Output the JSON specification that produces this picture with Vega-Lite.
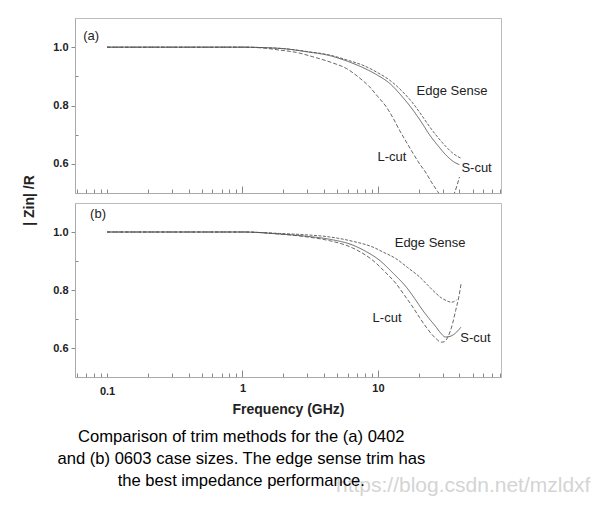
{
  "$schema": "https://vega.github.io/schema/vega-lite/v6.json",
  "background": "white",
  "padding": {"left": 21, "top": 17, "right": 5, "bottom": 5},
  "config": {
    "font": "Liberation Sans",
    "view": {"stroke": "#bbb", "strokeWidth": 1},
    "axis": {"domainColor": "#aaa", "tickColor": "#888", "grid": false, "labelFont": "Liberation Sans", "labelFontWeight": "bold", "labelFontSize": 11, "labelColor": "#222", "titleFont": "Liberation Sans", "titleFontWeight": "bold", "titleFontSize": 14, "titleColor": "#222"},
    "concat": {"spacing": 10}
  },
  "bounds": "flush",
  "datasets": {
    "curves": [
      {"p":"a","s":"Edge Sense","f":0.1,"v":1},{"p":"a","s":"Edge Sense","f":0.5,"v":1},{"p":"a","s":"Edge Sense","f":1,"v":1},{"p":"a","s":"Edge Sense","f":1.5,"v":0.998},{"p":"a","s":"Edge Sense","f":2,"v":0.995},{"p":"a","s":"Edge Sense","f":3,"v":0.985},{"p":"a","s":"Edge Sense","f":4.4,"v":0.973},{"p":"a","s":"Edge Sense","f":6,"v":0.955},{"p":"a","s":"Edge Sense","f":7.74,"v":0.938},{"p":"a","s":"Edge Sense","f":10,"v":0.912},{"p":"a","s":"Edge Sense","f":12.2,"v":0.887},{"p":"a","s":"Edge Sense","f":15,"v":0.85},{"p":"a","s":"Edge Sense","f":18.1,"v":0.808},{"p":"a","s":"Edge Sense","f":21,"v":0.767},{"p":"a","s":"Edge Sense","f":24,"v":0.728},{"p":"a","s":"Edge Sense","f":28,"v":0.688},{"p":"a","s":"Edge Sense","f":31.8,"v":0.659},{"p":"a","s":"Edge Sense","f":36,"v":0.635},{"p":"a","s":"Edge Sense","f":41.1,"v":0.619},
      {"p":"a","s":"S-cut","f":0.1,"v":1},{"p":"a","s":"S-cut","f":0.5,"v":1},{"p":"a","s":"S-cut","f":1,"v":1},{"p":"a","s":"S-cut","f":1.5,"v":0.998},{"p":"a","s":"S-cut","f":2,"v":0.995},{"p":"a","s":"S-cut","f":3,"v":0.984},{"p":"a","s":"S-cut","f":4.4,"v":0.971},{"p":"a","s":"S-cut","f":6,"v":0.951},{"p":"a","s":"S-cut","f":7.74,"v":0.93},{"p":"a","s":"S-cut","f":10,"v":0.903},{"p":"a","s":"S-cut","f":12.2,"v":0.876},{"p":"a","s":"S-cut","f":15,"v":0.832},{"p":"a","s":"S-cut","f":18.1,"v":0.785},{"p":"a","s":"S-cut","f":21,"v":0.742},{"p":"a","s":"S-cut","f":24,"v":0.7},{"p":"a","s":"S-cut","f":28,"v":0.66},{"p":"a","s":"S-cut","f":31.8,"v":0.63},{"p":"a","s":"S-cut","f":36,"v":0.608},{"p":"a","s":"S-cut","f":39.9,"v":0.597},
      {"p":"a","s":"L-cut","f":0.1,"v":1},{"p":"a","s":"L-cut","f":0.5,"v":1},{"p":"a","s":"L-cut","f":1,"v":1},{"p":"a","s":"L-cut","f":1.5,"v":0.996},{"p":"a","s":"L-cut","f":1.88,"v":0.99},{"p":"a","s":"L-cut","f":2.5,"v":0.982},{"p":"a","s":"L-cut","f":3.31,"v":0.967},{"p":"a","s":"L-cut","f":4.5,"v":0.948},{"p":"a","s":"L-cut","f":5.84,"v":0.927},{"p":"a","s":"L-cut","f":7.2,"v":0.897},{"p":"a","s":"L-cut","f":8.67,"v":0.864},{"p":"a","s":"L-cut","f":10,"v":0.83},{"p":"a","s":"L-cut","f":11.5,"v":0.796},{"p":"a","s":"L-cut","f":13,"v":0.755},{"p":"a","s":"L-cut","f":14.4,"v":0.716},{"p":"a","s":"L-cut","f":16.2,"v":0.675},{"p":"a","s":"L-cut","f":18.1,"v":0.637},{"p":"a","s":"L-cut","f":20.3,"v":0.6},{"p":"a","s":"L-cut","f":22.7,"v":0.568},{"p":"a","s":"L-cut","f":25,"v":0.535},{"p":"a","s":"L-cut","f":27.6,"v":0.505},{"p":"a","s":"L-cut","f":30,"v":0.482},{"p":"a","s":"L-cut","f":33,"v":0.472},{"p":"a","s":"L-cut","f":35,"v":0.48},{"p":"a","s":"L-cut","f":36.7,"v":0.5},{"p":"a","s":"L-cut","f":40,"v":0.555},
      {"p":"b","s":"Edge Sense","f":0.1,"v":1},{"p":"b","s":"Edge Sense","f":0.5,"v":1},{"p":"b","s":"Edge Sense","f":1,"v":1},{"p":"b","s":"Edge Sense","f":1.88,"v":0.995},{"p":"b","s":"Edge Sense","f":3,"v":0.99},{"p":"b","s":"Edge Sense","f":4.4,"v":0.983},{"p":"b","s":"Edge Sense","f":6.5,"v":0.968},{"p":"b","s":"Edge Sense","f":9.17,"v":0.948},{"p":"b","s":"Edge Sense","f":11,"v":0.93},{"p":"b","s":"Edge Sense","f":13.6,"v":0.908},{"p":"b","s":"Edge Sense","f":16.5,"v":0.878},{"p":"b","s":"Edge Sense","f":20.3,"v":0.845},{"p":"b","s":"Edge Sense","f":23.5,"v":0.815},{"p":"b","s":"Edge Sense","f":26.9,"v":0.788},{"p":"b","s":"Edge Sense","f":29.5,"v":0.772},{"p":"b","s":"Edge Sense","f":31.8,"v":0.764},{"p":"b","s":"Edge Sense","f":35,"v":0.758},{"p":"b","s":"Edge Sense","f":38,"v":0.765},
      {"p":"b","s":"S-cut","f":0.1,"v":1},{"p":"b","s":"S-cut","f":0.5,"v":1},{"p":"b","s":"S-cut","f":1,"v":1},{"p":"b","s":"S-cut","f":1.88,"v":0.993},{"p":"b","s":"S-cut","f":3,"v":0.985},{"p":"b","s":"S-cut","f":4.4,"v":0.975},{"p":"b","s":"S-cut","f":6.5,"v":0.955},{"p":"b","s":"S-cut","f":8,"v":0.935},{"p":"b","s":"S-cut","f":10.3,"v":0.902},{"p":"b","s":"S-cut","f":13,"v":0.857},{"p":"b","s":"S-cut","f":16.2,"v":0.81},{"p":"b","s":"S-cut","f":18.7,"v":0.77},{"p":"b","s":"S-cut","f":21.4,"v":0.73},{"p":"b","s":"S-cut","f":24,"v":0.7},{"p":"b","s":"S-cut","f":26.9,"v":0.672},{"p":"b","s":"S-cut","f":29,"v":0.652},{"p":"b","s":"S-cut","f":31.5,"v":0.638},{"p":"b","s":"S-cut","f":34,"v":0.64},{"p":"b","s":"S-cut","f":37.5,"v":0.652},{"p":"b","s":"S-cut","f":41,"v":0.672},
      {"p":"b","s":"L-cut","f":0.1,"v":1},{"p":"b","s":"L-cut","f":0.5,"v":1},{"p":"b","s":"L-cut","f":1,"v":1},{"p":"b","s":"L-cut","f":1.88,"v":0.993},{"p":"b","s":"L-cut","f":3,"v":0.983},{"p":"b","s":"L-cut","f":4.4,"v":0.97},{"p":"b","s":"L-cut","f":6.5,"v":0.945},{"p":"b","s":"L-cut","f":9.17,"v":0.902},{"p":"b","s":"L-cut","f":11.3,"v":0.862},{"p":"b","s":"L-cut","f":13.6,"v":0.822},{"p":"b","s":"L-cut","f":15.8,"v":0.78},{"p":"b","s":"L-cut","f":18.1,"v":0.741},{"p":"b","s":"L-cut","f":20.3,"v":0.705},{"p":"b","s":"L-cut","f":22.7,"v":0.672},{"p":"b","s":"L-cut","f":25,"v":0.647},{"p":"b","s":"L-cut","f":26.9,"v":0.632},{"p":"b","s":"L-cut","f":29.3,"v":0.62},{"p":"b","s":"L-cut","f":31,"v":0.622},{"p":"b","s":"L-cut","f":32.6,"v":0.635},{"p":"b","s":"L-cut","f":34,"v":0.655},{"p":"b","s":"L-cut","f":35.6,"v":0.685},{"p":"b","s":"L-cut","f":37.5,"v":0.73},{"p":"b","s":"L-cut","f":39.5,"v":0.775},{"p":"b","s":"L-cut","f":41.1,"v":0.822}
    ],
    "labels": [
      {"p":"a","t":"(a)","f":0.0666,"v":1.038},
      {"p":"a","t":"Edge Sense","f":19.3,"v":0.85},
      {"p":"a","t":"L-cut","f":9.93,"v":0.624},
      {"p":"a","t":"S-cut","f":41.3,"v":0.586},
      {"p":"b","t":"(b)","f":0.075,"v":1.061},
      {"p":"b","t":"Edge Sense","f":13.3,"v":0.961},
      {"p":"b","t":"L-cut","f":9.13,"v":0.702},
      {"p":"b","t":"S-cut","f":40.6,"v":0.633}
    ],
    "caption": [
      {"t":"Comparison of trim methods for the (a) 0402\nand (b) 0603 case sizes. The edge sense trim has\nthe best impedance performance.","f":0.98,"v":0.321}
    ],
    "note": [
      {"t":"https://blog.csdn.net/mzldxf","f":4.9,"v":0.124}
    ]
  },
  "vconcat": [
    {
      "width": 426, "height": 175,
      "encoding": {
        "x": {"field": "f", "type": "quantitative", "scale": {"type": "log", "domain": [0.058, 81], "nice": false},
          "axis": {"values": [0.06,0.07,0.08,0.09,0.1,0.2,0.3,0.4,0.5,0.6,0.7,0.8,0.9,1,2,3,4,5,6,7,8,9,10,20,30,40,50,60,70,80], "labels": false, "title": null, "tickSize": {"condition": {"test": "datum.value == 1 || datum.value == 10", "value": -7}, "value": -4}}},
        "y": {"field": "v", "type": "quantitative", "scale": {"domain": [0.5, 1.1], "nice": false, "zero": false},
          "axis": {"values": [0.6,0.7,0.8,0.9,1.0], "labelExpr": "datum.value == 0.6 || datum.value == 0.8 || datum.value == 1 ? format(datum.value, '.1f') : ''", "tickSize": {"condition": {"test": "datum.value == 0.7 || datum.value == 0.9", "value": -3}, "value": 4}, "labelPadding": 3, "title": "| Zin| /R", "titleX": -46, "titleY": 182, "titleBaseline": "middle", "titleAngle": -90, "titleAlign": "center"}}
      },
      "layer": [
        {
          "data": {"name": "curves"},
          "transform": [{"filter": "datum.p == 'a'"}],
          "mark": {"type": "line", "clip": true, "strokeWidth": 0.9, "color": "#555", "interpolate": "monotone"},
          "encoding": {
            "detail": {"field": "s"},
            "strokeDash": {"field": "s", "type": "nominal", "scale": {"domain": ["Edge Sense", "S-cut", "L-cut"], "range": [[3, 1.5], [1, 0], [4, 2]]}, "legend": null}
          }
        },
        {
          "data": {"name": "labels"},
          "transform": [{"filter": "datum.p == 'a'"}],
          "mark": {"type": "text", "align": "left", "baseline": "middle", "fontSize": 13, "color": "#222", "font": "Liberation Sans"},
          "encoding": {"text": {"field": "t"}}
        }
      ]
    },
    {
      "width": 426, "height": 174,
      "encoding": {
        "x": {"field": "f", "type": "quantitative", "scale": {"type": "log", "domain": [0.058, 81], "nice": false},
          "axis": {"values": [0.06,0.07,0.08,0.09,0.1,0.2,0.3,0.4,0.5,0.6,0.7,0.8,0.9,1,2,3,4,5,6,7,8,9,10,20,30,40,50,60,70,80], "format": "~g", "labelExpr": "datum.value == 0.1 || datum.value == 1 || datum.value == 10 ? datum.label : ''", "labelPadding": 12, "title": "Frequency (GHz)", "titlePadding": 6, "tickSize": {"condition": {"test": "datum.value == 1 || datum.value == 10", "value": -7}, "value": -4}}},
        "y": {"field": "v", "type": "quantitative", "scale": {"domain": [0.5, 1.1], "nice": false, "zero": false},
          "axis": {"values": [0.6,0.7,0.8,0.9,1.0], "labelExpr": "datum.value == 0.6 || datum.value == 0.8 || datum.value == 1 ? format(datum.value, '.1f') : ''", "tickSize": {"condition": {"test": "datum.value == 0.7 || datum.value == 0.9", "value": -3}, "value": 4}, "labelPadding": 3, "title": null}}
      },
      "layer": [
        {
          "data": {"name": "curves"},
          "transform": [{"filter": "datum.p == 'b'"}],
          "mark": {"type": "line", "clip": true, "strokeWidth": 0.9, "color": "#555", "interpolate": "monotone"},
          "encoding": {
            "detail": {"field": "s"},
            "strokeDash": {"field": "s", "type": "nominal", "scale": {"domain": ["Edge Sense", "S-cut", "L-cut"], "range": [[3, 1.5], [1, 0], [4, 2]]}, "legend": null}
          }
        },
        {
          "data": {"name": "labels"},
          "transform": [{"filter": "datum.p == 'b'"}],
          "mark": {"type": "text", "align": "left", "baseline": "middle", "fontSize": 13, "color": "#222", "font": "Liberation Sans"},
          "encoding": {"text": {"field": "t"}}
        },
        {
          "data": {"name": "note"},
          "mark": {"type": "text", "align": "left", "baseline": "middle", "fontSize": 21, "color": "#d4d4d4", "font": "Liberation Sans"},
          "encoding": {"text": {"field": "t"}}
        },
        {
          "data": {"name": "caption"},
          "mark": {"type": "text", "align": "center", "baseline": "top", "fontSize": 16.6, "lineHeight": 22, "lineBreak": "\n", "color": "black", "font": "Liberation Sans"},
          "encoding": {"text": {"field": "t"}}
        }
      ]
    }
  ]
}
